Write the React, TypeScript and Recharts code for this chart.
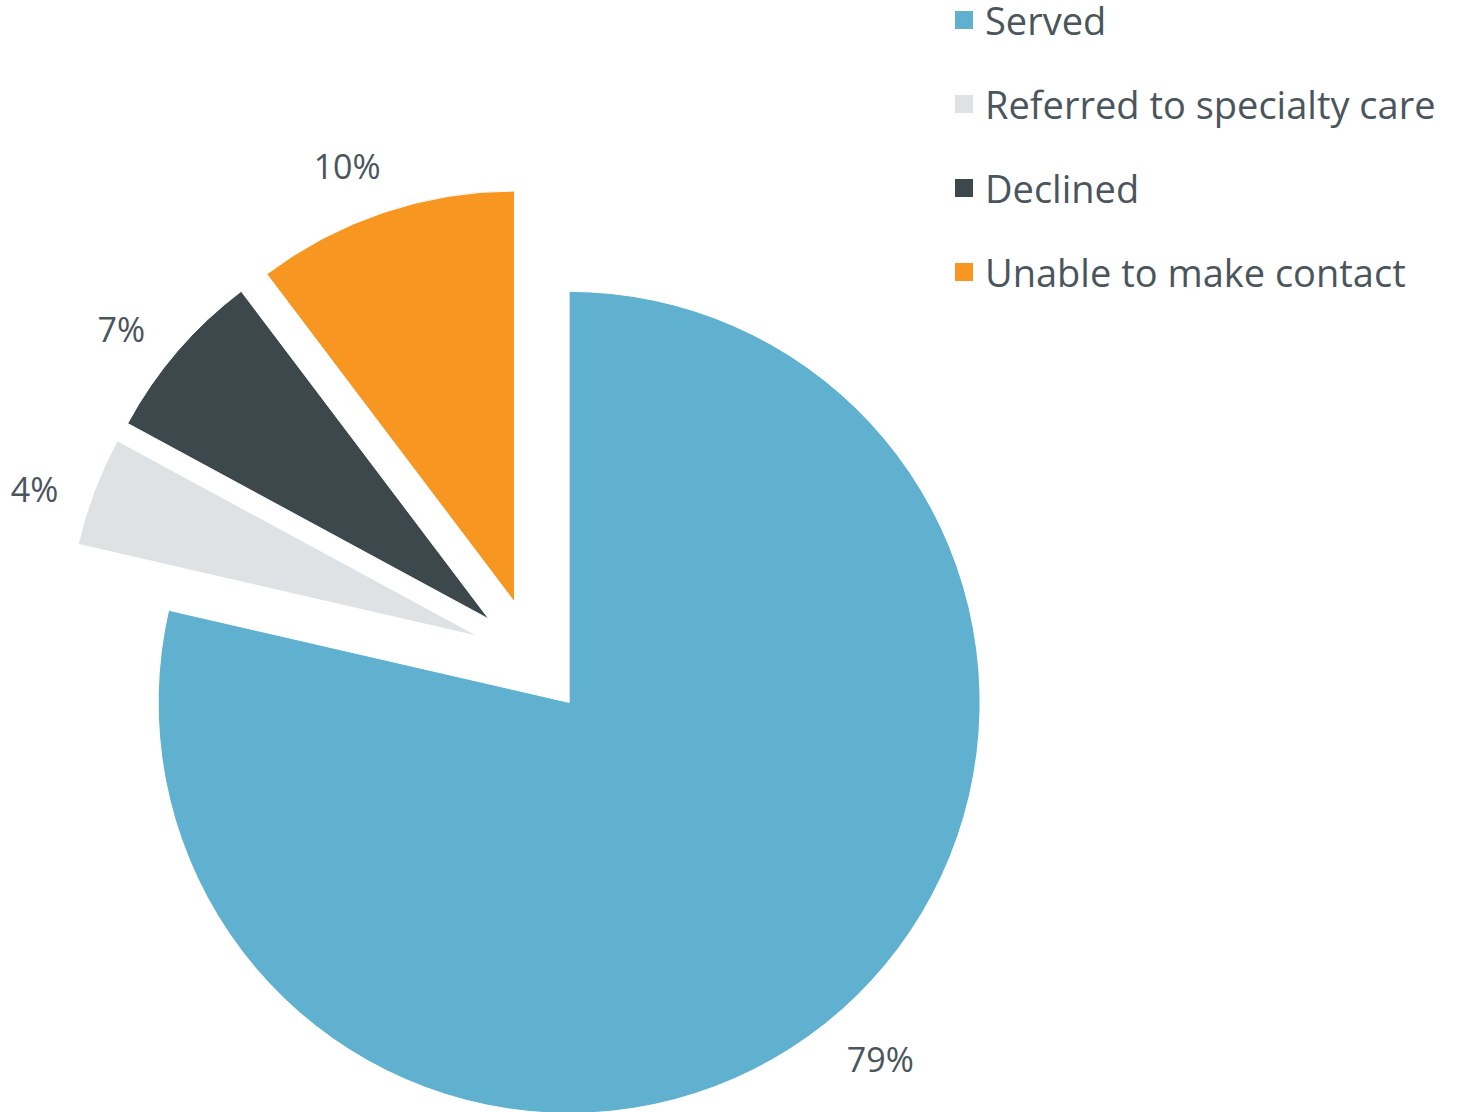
import { PieChart, Pie, Cell, Legend } from 'recharts'

const categories = ['Served', 'Referred to specialty care', 'Declined', 'Unable to make contact']
const shares = [78.6, 4.3, 6.8, 10.3]
const colors = ['#60b1cf', '#dfe2e5', '#3d484c', '#f79621']

const data = categories.map((name, i) => ({ name, value: shares[i] }))

const RADIAN = Math.PI / 180
const START = 90
const END = -270
const EXPLODE = 58
const TEXT = '#4a555c'
const FONT = '"Open Sans", sans-serif'

// mid angle of every slice, same convention recharts uses (deg, ccw from 3 o'clock)
const total = shares.reduce((a, b) => a + b, 0)
const midAngles = shares.map((v, i) => {
  const before = shares.slice(0, i).reduce((a, b) => a + b, 0)
  return START + ((END - START) * (before + v / 2)) / total
})

// every slice is pulled out along its own mid angle
const explodeOffset = (mid: number) => ({
  dx: EXPLODE * Math.cos(mid * RADIAN),
  dy: -EXPLODE * Math.sin(mid * RADIAN),
})

const renderLabel = (props: any) => {
  const { cx, cy, midAngle, outerRadius, percent } = props
  const { dx, dy } = explodeOffset(midAngle)
  const text = `${Math.round(percent * 100)}%`
  const a = (midAngle + 2.5) * RADIAN
  const cos = Math.cos(a)
  const sin = Math.sin(a)
  const halfW = text.length * 11.3
  const halfH = 13
  const r = outerRadius + 31 + halfW * Math.abs(cos) + halfH * Math.abs(sin)
  const x = cx + dx + r * cos
  const y = cy + dy - r * sin
  return (
    <text x={x} y={y + 12} fill={TEXT} fontSize={34} fontFamily={FONT} textAnchor="middle">
      {text}
    </text>
  )
}

// keep the legend in data order (recharts sorts by name otherwise)
const renderLegend = (props: any) => {
  const payload = props.payload || []
  const colorOf = (name: string) => {
    const hit = payload.find((p: any) => p.value === name)
    return hit ? hit.color : colors[categories.indexOf(name)]
  }
  return (
    <ul style={{ listStyle: 'none', margin: 0, padding: 0 }}>
      {categories.map((name) => (
        <li
          key={name}
          style={{ display: 'flex', alignItems: 'center', height: 40, marginBottom: 44 }}
        >
          <span
            style={{
              display: 'inline-block',
              width: 18,
              height: 18,
              background: colorOf(name),
              marginRight: 12,
              flex: 'none',
            }}
          />
          <span
            style={{
              fontFamily: FONT,
              fontSize: 38,
              lineHeight: '40px',
              color: TEXT,
              whiteSpace: 'nowrap',
            }}
          >
            {name}
          </span>
        </li>
      ))}
    </ul>
  )
}

export default function App() {
  return (
    <div style={{ position: 'absolute', left: 0, top: 0 }}>
      <PieChart width={1475} height={1112} margin={{ top: 0, right: 0, bottom: 0, left: 0 }}>
        <Pie
          data={data}
          dataKey="value"
          nameKey="name"
          cx={533}
          cy={657}
          outerRadius={411}
          startAngle={START}
          endAngle={END}
          stroke="#ffffff"
          strokeWidth={1}
          label={renderLabel}
          labelLine={false}
          isAnimationActive={false}
        >
          {data.map((d, i) => {
            const { dx, dy } = explodeOffset(midAngles[i])
            return (
              <Cell
                key={d.name}
                fill={colors[i]}
                transform={`translate(${dx.toFixed(2)}, ${dy.toFixed(2)})`}
              />
            )
          })}
        </Pie>
        <Legend
          layout="vertical"
          align="right"
          verticalAlign="top"
          content={renderLegend}
          wrapperStyle={{ left: 955, top: 0, width: 520 }}
        />
      </PieChart>
    </div>
  )
}
